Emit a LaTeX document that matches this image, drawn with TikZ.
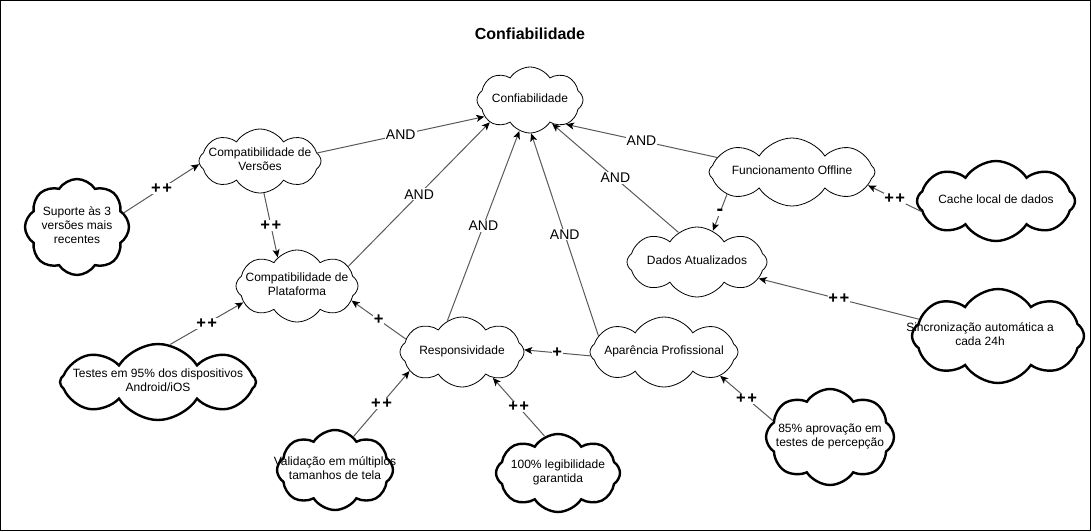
\documentclass[tikz,border=0pt]{standalone}
\usepackage{fontspec}
\setmainfont{Liberation Sans}
\usetikzlibrary{shapes.symbols,arrows.meta}
\newcommand{\ct}[2][0pt]{\makebox[0pt]{\hspace*{#1}\begin{tabular}{@{}c@{}}#2\end{tabular}}}
\newcommand{\pp}{+\kern1.5pt+}
\begin{document}
\begin{tikzpicture}[x=1pt,y=-1pt,
  soft/.style={cloud, cloud puffs=8, cloud puff arc=115, cloud ignores aspect, draw=black, line width=0.8pt,
    inner sep=0pt, font=\fontsize{12}{14}\selectfont},
  leaf/.style={soft, line width=2.4pt},
  lnk/.style={draw=black!65, line width=1pt, -{Stealth[length=8pt,width=7pt,inset=2pt,color=black]}},
  lbl/.style={fill=white, inner sep=1pt, font=\fontsize{14}{16}\selectfont},
  sym/.style={lbl, inner sep=0.5pt, font=\bfseries\fontsize{16.5}{17}\selectfont}]
\useasboundingbox (0,0) rectangle (1091,531);
\draw[black, line width=1pt] (0.5,0.5) rectangle (1090.5,530.5);
\node[font=\bfseries\fontsize{16}{19}\selectfont] (title) at (530,34) {Confiabilidade};

\node[soft, minimum width=106pt, minimum height=66pt] (conf) at (530,100) {\ct{Confiabilidade}};
\node[soft, minimum width=122pt, minimum height=64pt] (cv) at (260,161) {\ct{Compatibilidade de\\Versões}};
\node[leaf, minimum width=104pt, minimum height=96pt] (sup) at (77,227) {\ct{Suporte às 3\\versões mais\\recentes}};
\node[soft, minimum width=122pt, minimum height=72pt] (cp) at (297,286) {\ct{Compatibilidade de\\Plataforma}};
\node[leaf, minimum width=196pt, minimum height=76pt] (tst) at (158,382) {\ct{Testes em 95\% dos dispositivos\\Android/iOS}};
\node[soft, minimum width=124pt, minimum height=70pt] (resp) at (462,352) {\ct{Responsividade}};
\node[leaf, minimum width=116pt, minimum height=80pt] (val) at (335,470) {\ct{Validação em múltiplos\\tamanhos de tela}};
\node[leaf, minimum width=124pt, minimum height=78pt] (leg) at (558,473) {\ct{100\% legibilidade\\garantida}};
\node[soft, minimum width=148pt, minimum height=70pt] (apar) at (664,352) {\ct{Aparência Profissional}};
\node[leaf, minimum width=128pt, minimum height=96pt] (p85) at (830,437) {\ct{85\% aprovação em\\testes de percepção}};
\node[soft, minimum width=166pt, minimum height=68pt] (func) at (792,172) {\ct{Funcionamento Offline}};
\node[leaf, minimum width=158pt, minimum height=80pt] (cache) at (996,201) {\ct{Cache local de dados}};
\node[soft, minimum width=140pt, minimum height=70pt] (dados) at (697,262) {\ct{Dados Atualizados}};
\node[leaf, minimum width=172pt, minimum height=94pt] (sinc) at (998,336) {\ct[-36pt]{Sincronização automática a\\cada 24h}};

\draw[lnk] (cv.8) -- node[lbl]{AND} (conf.200);
\draw[lnk] (cp.21) -- node[lbl]{AND} (conf.209);
\draw[lnk] (resp.115) -- node[lbl]{AND} (conf.251);
\draw[lnk] (apar.166) -- node[lbl]{AND} (conf.272);
\draw[lnk] (dados.122) -- node[lbl]{AND} (conf.313);
\draw[lnk] (func.169) -- node[lbl]{AND} (conf.326);
\draw[lnk] (sup.17) -- node[sym]{\pp} (cv.183);
\draw[lnk] (cv.277) -- node[sym]{\pp} (cp.124);
\draw[lnk] (tst.72) -- node[sym]{\pp} (cp.197);
\draw[lnk] (resp.167) -- node[sym]{+} (cp.345);
\draw[lnk] (apar.183) -- node[sym]{+} (resp.2);
\draw[lnk] (val.61) -- node[sym]{\pp} (resp.200);
\draw[lnk] (leg.110) -- node[sym]{\pp} (resp.320);
\draw[lnk] (p85.164) -- node[sym]{\pp} (apar.337);
\draw[lnk] (cache.188) -- node[sym]{\pp} (func.350);
\draw[lnk] (func.199) -- node[sym, font=\bfseries\fontsize{20}{20}\selectfont]{-} (dados.63);
\draw[lnk] (sinc.168) -- node[sym]{\pp} (dados.345);
\end{tikzpicture}
\end{document}
